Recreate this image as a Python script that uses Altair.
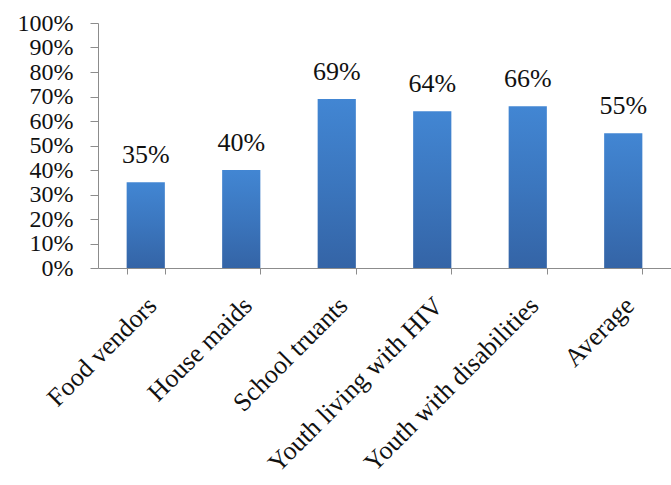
import altair as alt
import pandas as pd

categories = ["Food vendors", "House maids", "School truants",
              "Youth living with HIV", "Youth with disabilities", "Average"]
values = [0.35, 0.40, 0.69, 0.64, 0.66, 0.55]
labels = ["35%", "40%", "69%", "64%", "66%", "55%"]
y_ticks = [0, 0.1, 0.2, 0.3, 0.4, 0.5, 0.6, 0.7, 0.8, 0.9, 1.0]

df = pd.DataFrame({"cat": categories, "val": values, "lab": labels})

FONT = "Times New Roman, Liberation Serif, serif"

x_enc = alt.X("cat:N", sort=categories, title=None,
              scale=alt.Scale(paddingInner=0.6, paddingOuter=0.3),
              axis=alt.Axis(labelAngle=-45, labelAlign="right", labelBaseline="top",
                            labelFont=FONT, labelFontSize=26, labelColor="#111",
                            labelPadding=18, labelOffset=-3, tickBand="extent", tickSize=6,
                            domainColor="#8c8c8c", tickColor="#8c8c8c",
                            labelLimit=400, grid=False))
y_enc = alt.Y("val:Q", title=None,
              scale=alt.Scale(domain=[0, 1], nice=False),
              axis=alt.Axis(values=y_ticks, format=".0%", labelFont=FONT,
                            labelFontSize=24, labelColor="#111", tickSize=8,
                            labelPadding=17, domainColor="#8c8c8c",
                            tickColor="#8c8c8c", grid=False,
                            labelOverlap=False, labelFlush=False))

base = alt.Chart(df).encode(x=x_enc, y=y_enc)

bars = base.mark_bar(
    color=alt.Gradient(gradient="linear", x1=0, y1=0, x2=0, y2=1,
                       stops=[alt.GradientStop(color="#4286d3", offset=0),
                              alt.GradientStop(color="#3b76be", offset=0.5),
                              alt.GradientStop(color="#3464a6", offset=1)])
)

text = base.mark_text(font=FONT, fontSize=26, color="#111",
                      baseline="alphabetic", dy=-19).encode(text="lab:N")

chart = (bars + text).properties(
    width=573, height=245,
    padding={"left": 98, "top": 23, "right": 0, "bottom": 217},
    autosize=alt.AutoSizeParams(type="none"),
    background="white",
).configure_view(stroke=None)

chart.save("out.html", embed_options={"renderer": "svg", "actions": False})
